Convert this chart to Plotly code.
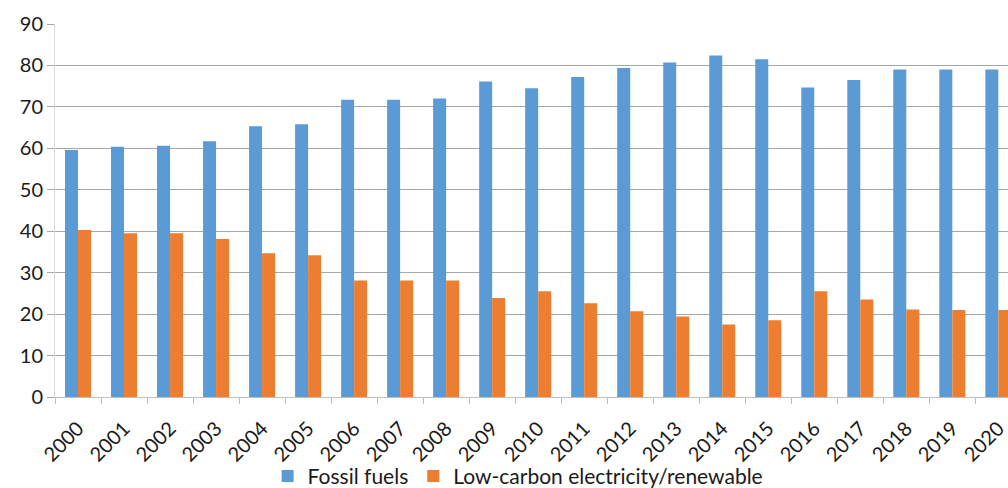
import plotly.graph_objects as go

years = [str(y) for y in range(2000, 2021)]
fossil_fuels = [59.6, 60.4, 60.6, 61.7, 65.3, 65.8, 71.7, 71.7, 72.0, 76.1, 74.5,
                77.2, 79.4, 80.7, 82.4, 81.5, 74.7, 76.5, 79.0, 79.0, 79.0]
low_carbon = [40.3, 39.5, 39.5, 38.1, 34.7, 34.2, 28.1, 28.1, 28.1, 23.9, 25.5,
              22.6, 20.7, 19.4, 17.5, 18.5, 25.5, 23.5, 21.1, 21.0, 21.0]
y_ticks = list(range(0, 100, 10))

BLUE = "#5B9BD5"
ORANGE = "#ED7D31"
GRID = "#A6A6A6"
FONT = "Lato, 'Noto Sans', sans-serif"

fig = go.Figure()
fig.add_trace(go.Bar(x=years, y=fossil_fuels, name="Fossil fuels",
                     marker=dict(color=BLUE, line=dict(width=0))))
fig.add_trace(go.Bar(x=years, y=low_carbon, name="Low-carbon electricity/renewable",
                     marker=dict(color=ORANGE, line=dict(width=0))))

fig.update_layout(
    width=1008, height=488,
    margin=dict(l=55, r=0, t=24, b=91, autoexpand=False),
    paper_bgcolor="white", plot_bgcolor="white",
    barmode="group", bargap=0.435, bargroupgap=0,
    font=dict(family=FONT, color="#1a1a1a", size=20),
    showlegend=True,
    legend=dict(orientation="h", xref="container", yref="container",
                x=0.514, xanchor="center", y=0.024, yanchor="middle",
                bgcolor="rgba(0,0,0,0)",
                font=dict(size=21), itemwidth=30, traceorder="normal"),
)
fig.update_xaxes(
    type="category", range=[-0.5, 20.21], automargin=False,
    tickangle=-45, tickfont=dict(size=20), ticklabelstandoff=11,
    ticks="outside", tickson="boundaries", ticklen=6, tickcolor="#BFBFBF",
    showline=True, linecolor="#BFBFBF", linewidth=1, showgrid=False,
)
fig.update_yaxes(
    range=[0, 90], tickvals=y_ticks, tickfont=dict(size=20), automargin=False,
    showgrid=True, gridcolor=GRID, gridwidth=1,
    ticks="outside", ticklen=7, tickcolor=GRID,
    showline=True, linecolor="#D9D9D9", linewidth=1, zeroline=False,
)

fig.write_html("out.html")
